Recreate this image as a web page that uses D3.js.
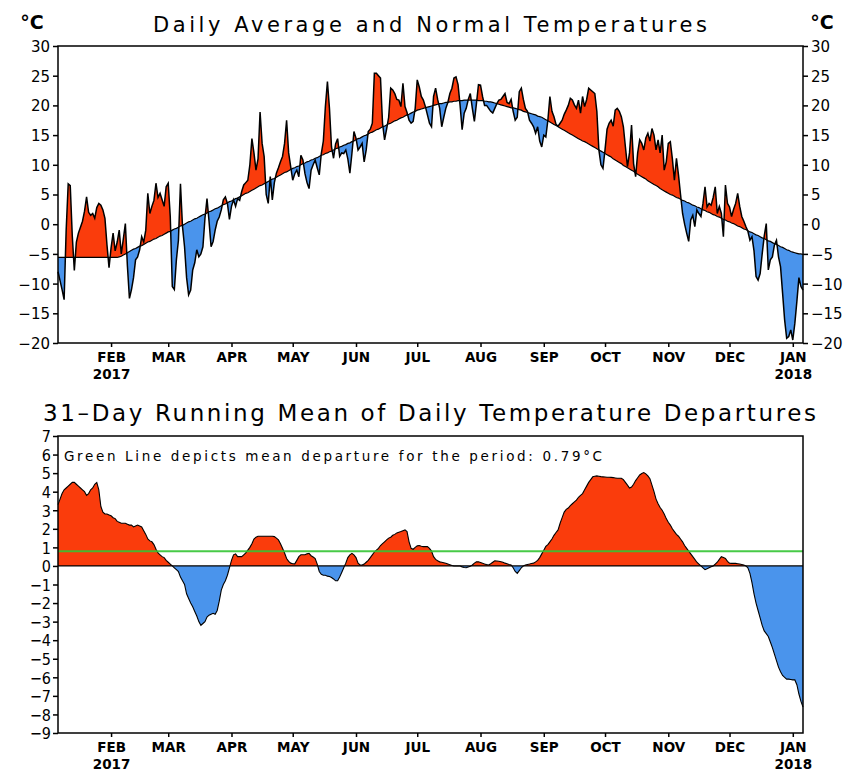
<!DOCTYPE html>
<html>
<head>
<meta charset="utf-8">
<script src="https://cdn.jsdelivr.net/npm/d3@7.9.0/dist/d3.min.js"></script>
<style>
  body { margin: 0; background: #fff; }
  text { font-family: "DejaVu Sans", sans-serif; fill: #000; }
</style>
</head>
<body>
<div id="chart"></div>
<script>
// daily values, 2017-01-06 .. 2018-01-06 (366 days)
const firstDay = new Date(2017, 0, 6);

const avgTemp = [
  -8.0, -9.5, -11.0, -12.7, -1.0, 6.8, 6.5, -2.0, -7.8, -3.0,
  -1.5, -0.5, 0.5, 2.2, 4.6, 2.0, 1.5, 1.8, 1.0, 2.8,
  3.5, 3.2, 2.4, 1.0, -3.5, -7.3, -4.0, -1.5, -4.5, -3.0,
  -1.0, -5.0, -2.5, 0.1, -7.0, -12.5, -11.0, -9.0, -6.0, -5.5,
  -4.3, -2.1, -3.0, -1.0, 5.2, 1.8, 3.0, 4.0, 6.9, 4.5,
  5.2, 4.1, 3.0, 6.3, 6.9, 1.3, -10.5, -11.0, -6.0, -2.7,
  6.8, -0.4, -3.8, -9.0, -11.9, -11.1, -7.7, -6.5, -4.3, -5.5,
  -5.0, -3.8, 1.0, 4.3, 0.5, -3.8, -2.9, -1.0, 0.5, 1.2,
  2.4, 4.1, 4.6, 3.5, 0.8, 3.0, 4.1, 3.0, 4.3, 4.0,
  5.5, 6.6, 7.0, 7.4, 10.0, 14.4, 12.0, 9.1, 11.0, 18.9,
  13.6, 11.4, 5.0, 3.5, 8.0, 4.1, 7.0, 8.6, 9.5, 10.5,
  11.4, 13.6, 17.5, 12.0, 9.7, 7.4, 8.5, 9.1, 8.0, 11.6,
  10.8, 8.5, 7.0, 6.0, 9.1, 10.0, 10.8, 9.5, 8.3, 11.9,
  14.0, 19.8, 24.0, 19.5, 13.0, 11.1, 13.5, 14.4, 11.4, 12.0,
  11.9, 12.5, 11.0, 8.6, 11.9, 15.6, 14.5, 12.5, 13.0, 13.6,
  10.5, 12.5, 15.6, 16.0, 17.0, 25.4, 25.4, 25.0, 24.6, 17.0,
  14.2, 16.0, 18.0, 22.9, 22.6, 22.0, 21.0, 20.9, 19.8, 23.7,
  19.8, 18.8, 17.5, 17.0, 17.3, 19.5, 24.3, 23.1, 21.5, 20.9,
  19.8, 18.4, 17.0, 16.4, 21.5, 22.9, 21.0, 19.5, 16.4, 18.0,
  19.5, 20.5, 22.0, 22.9, 24.6, 24.8, 23.5, 20.0, 15.9, 18.7,
  19.5, 21.0, 22.0, 19.5, 17.3, 20.3, 23.5, 23.4, 21.5, 20.0,
  20.0, 19.5, 19.0, 18.7, 19.5, 20.3, 20.9, 21.0, 21.5, 22.0,
  20.5, 20.3, 21.0, 19.0, 17.5, 18.0, 22.3, 22.9, 21.0, 19.5,
  19.0, 17.5, 17.0, 16.4, 15.3, 16.4, 14.0, 13.0, 15.0, 14.7,
  17.5, 21.5, 19.0, 18.1, 16.8, 16.5, 17.0, 17.5, 18.5, 19.2,
  20.0, 21.2, 20.9, 20.1, 19.5, 20.9, 18.7, 21.5, 19.8, 21.0,
  22.9, 22.6, 22.3, 22.0, 19.0, 12.5, 10.0, 9.4, 12.5, 16.0,
  17.0, 17.5, 16.5, 19.2, 19.5, 19.0, 18.1, 16.4, 13.0, 9.7,
  12.0, 16.7, 10.2, 8.0, 12.0, 14.2, 13.6, 12.5, 14.5, 15.3,
  14.0, 16.1, 15.0, 12.5, 14.2, 12.0, 15.0, 9.1, 10.5, 13.6,
  13.9, 11.0, 7.4, 11.1, 8.3, 5.0, 1.8, 0.0, -1.5, -2.9,
  0.7, 1.5, -0.4, 2.4, 1.8, 1.3, 3.5, 6.3, 2.9, 3.5,
  3.2, 4.5, 6.3, 1.8, 3.0, 1.8, -2.1, 6.6, 3.5, 2.9,
  1.3, 2.5, 3.5, 5.2, 3.0, 1.3, 0.5, -0.4, -1.2, -2.7,
  -2.1, -4.5, -8.8, -9.4, -8.3, -5.0, -2.0, 0.1, -7.7, -6.0,
  -5.5, -3.5, -2.7, -5.5, -7.2, -11.6, -16.1, -19.2, -18.9, -17.8,
  -19.5, -16.7, -13.0, -9.0, -10.5, -11.1
];

const normalTemp = [
  -5.6, -5.6, -5.6, -5.6, -5.6, -5.6, -5.6, -5.6, -5.6, -5.6,
  -5.6, -5.6, -5.6, -5.6, -5.6, -5.6, -5.6, -5.6, -5.6, -5.6,
  -5.6, -5.6, -5.6, -5.6, -5.6, -5.6, -5.6, -5.6, -5.6, -5.6,
  -5.5, -5.4, -5.2, -5.0, -4.8, -4.6, -4.4, -4.2, -4.1, -3.9,
  -3.7, -3.6, -3.4, -3.2, -3.0, -2.9, -2.7, -2.5, -2.4, -2.2,
  -2.0, -1.9, -1.7, -1.5, -1.3, -1.2, -1.0, -0.8, -0.7, -0.5,
  -0.3, -0.2, 0.0, 0.2, 0.4, 0.5, 0.7, 0.9, 1.0, 1.2,
  1.4, 1.6, 1.7, 1.9, 2.1, 2.2, 2.4, 2.6, 2.7, 2.9,
  3.1, 3.3, 3.4, 3.6, 3.8, 3.9, 4.1, 4.3, 4.4, 4.6,
  4.8, 5.0, 5.2, 5.3, 5.5, 5.7, 5.9, 6.1, 6.3, 6.5,
  6.6, 6.8, 7.0, 7.2, 7.4, 7.6, 7.7, 7.9, 8.1, 8.3,
  8.5, 8.7, 8.8, 9.0, 9.2, 9.4, 9.5, 9.7, 9.8, 10.0,
  10.2, 10.3, 10.5, 10.6, 10.8, 10.9, 11.1, 11.2, 11.4, 11.6,
  11.7, 11.9, 12.0, 12.2, 12.3, 12.5, 12.7, 12.8, 13.0, 13.1,
  13.3, 13.4, 13.6, 13.7, 13.9, 14.0, 14.2, 14.4, 14.5, 14.7,
  14.9, 15.0, 15.2, 15.4, 15.5, 15.7, 15.9, 16.0, 16.2, 16.4,
  16.5, 16.7, 16.9, 17.0, 17.2, 17.4, 17.5, 17.7, 17.9, 18.0,
  18.2, 18.4, 18.5, 18.7, 18.9, 19.0, 19.2, 19.3, 19.4, 19.5,
  19.6, 19.7, 19.8, 19.9, 20.0, 20.1, 20.2, 20.3, 20.3, 20.4,
  20.5, 20.5, 20.6, 20.6, 20.7, 20.7, 20.8, 20.8, 20.8, 20.9,
  20.9, 20.9, 20.9, 20.9, 20.9, 20.9, 20.8, 20.8, 20.8, 20.7,
  20.7, 20.6, 20.6, 20.5, 20.4, 20.3, 20.2, 20.1, 20.0, 19.9,
  19.8, 19.7, 19.6, 19.6, 19.5, 19.4, 19.3, 19.2, 19.0, 18.9,
  18.8, 18.7, 18.6, 18.5, 18.4, 18.2, 18.1, 18.0, 17.8, 17.6,
  17.4, 17.2, 17.0, 16.8, 16.6, 16.4, 16.2, 16.0, 15.8, 15.6,
  15.4, 15.2, 15.0, 14.8, 14.6, 14.4, 14.2, 14.0, 13.9, 13.7,
  13.5, 13.3, 13.1, 12.9, 12.7, 12.5, 12.3, 12.1, 11.9, 11.7,
  11.5, 11.3, 11.0, 10.8, 10.6, 10.4, 10.2, 9.9, 9.7, 9.5,
  9.3, 9.1, 8.9, 8.6, 8.4, 8.2, 8.0, 7.8, 7.6, 7.3,
  7.1, 6.9, 6.7, 6.5, 6.3, 6.0, 5.8, 5.6, 5.4, 5.2,
  5.0, 4.9, 4.7, 4.5, 4.4, 4.2, 4.0, 3.9, 3.7, 3.6,
  3.4, 3.2, 3.1, 2.9, 2.8, 2.6, 2.4, 2.3, 2.1, 2.0,
  1.8, 1.6, 1.5, 1.3, 1.2, 1.0, 0.8, 0.7, 0.5, 0.4,
  0.2, 0.1, -0.1, -0.3, -0.4, -0.6, -0.8, -0.9, -1.1, -1.3,
  -1.4, -1.6, -1.8, -1.9, -2.1, -2.3, -2.4, -2.6, -2.8, -2.9,
  -3.1, -3.3, -3.4, -3.6, -3.8, -3.9, -4.1, -4.3, -4.4, -4.6,
  -4.7, -4.8, -4.9, -5.0, -5.0, -5.1
];

// 31-day running mean of the daily departures
const runningMean = [
  3.3, 3.6, 3.9, 4.1, 4.2, 4.3, 4.4, 4.5, 4.5, 4.4,
  4.3, 4.2, 4.1, 4.0, 3.8, 3.9, 4.1, 4.2, 4.4, 4.5,
  4.1, 3.2, 2.9, 2.8, 2.8, 2.75, 2.7, 2.6, 2.55, 2.4,
  2.35, 2.3, 2.3, 2.3, 2.25, 2.2, 2.2, 2.1, 2.15, 2.2,
  2.15, 2.1, 1.9, 1.7, 1.45, 1.35, 1.3, 1.15, 0.9, 0.7,
  0.6, 0.5, 0.45, 0.3, 0.2, 0.1, 0.0, -0.1, -0.2, -0.3,
  -0.6, -0.8, -1.0, -1.5, -1.75, -2.0, -2.2, -2.45, -2.7, -3.0,
  -3.2, -3.1, -3.0, -2.75, -2.65, -2.6, -2.55, -2.6, -2.4, -1.9,
  -1.3, -1.0, -0.8, -0.5, -0.1, 0.3, 0.6, 0.65, 0.5, 0.5,
  0.5, 0.6, 0.7, 0.85, 1.0, 1.2, 1.45, 1.55, 1.6, 1.6,
  1.6, 1.6, 1.6, 1.6, 1.6, 1.6, 1.58, 1.5, 1.4, 1.2,
  0.95, 0.7, 0.4, 0.25, 0.15, 0.12, 0.11, 0.3, 0.5, 0.6,
  0.6, 0.6, 0.65, 0.68, 0.55, 0.48, 0.4, 0.1, -0.3, -0.45,
  -0.5, -0.5, -0.55, -0.57, -0.62, -0.7, -0.8, -0.8, -0.6, -0.35,
  -0.1, 0.15, 0.45, 0.6, 0.68, 0.6, 0.45, 0.15, 0.05, 0.05,
  0.1, 0.2, 0.3, 0.45, 0.6, 0.75, 0.85, 0.95, 1.1, 1.2,
  1.3, 1.4, 1.5, 1.55, 1.65, 1.7, 1.78, 1.82, 1.85, 1.9,
  1.94, 1.85, 1.3, 0.95, 0.9, 1.0, 1.08, 1.1, 1.06, 1.04,
  1.04, 1.04, 0.95, 0.8, 0.5, 0.35, 0.28, 0.22, 0.2, 0.17,
  0.14, 0.1, 0.06, 0.02, 0.0, 0.0, 0.0, 0.0, -0.05, -0.08,
  -0.1, -0.06, -0.02, 0.05, 0.15, 0.22, 0.22, 0.18, 0.14, 0.1,
  0.07, 0.05, 0.12, 0.2, 0.28, 0.27, 0.25, 0.23, 0.2, 0.15,
  0.12, 0.08, 0.05, -0.1, -0.3, -0.4, -0.25, -0.1, 0.0, 0.05,
  0.08, 0.1, 0.13, 0.15, 0.22, 0.3, 0.45, 0.65, 0.85, 1.05,
  1.15, 1.3, 1.45, 1.65, 1.8, 1.94, 2.3, 2.6, 2.9, 3.05,
  3.12, 3.25, 3.35, 3.45, 3.55, 3.7, 3.8, 3.9, 4.1, 4.3,
  4.5, 4.65, 4.8, 4.83, 4.85, 4.83, 4.81, 4.8, 4.79, 4.78,
  4.78, 4.77, 4.76, 4.74, 4.72, 4.72, 4.72, 4.65, 4.5, 4.35,
  4.2, 4.25, 4.4, 4.6, 4.75, 4.9, 4.98, 5.03, 4.96, 4.85,
  4.7, 4.35, 4.0, 3.6, 3.35, 3.15, 3.0, 2.8, 2.55, 2.35,
  2.2, 2.0, 1.85, 1.7, 1.6, 1.45, 1.3, 1.1, 0.95, 0.8,
  0.65, 0.5, 0.35, 0.2, 0.1, 0.0, -0.1, -0.2, -0.15, -0.1,
  -0.05, 0.0, 0.1, 0.2, 0.35, 0.5, 0.45, 0.4, 0.25, 0.15,
  0.14, 0.14, 0.14, 0.12, 0.1, 0.08, 0.05, 0.0, -0.1, -0.4,
  -0.9, -1.5, -2.0, -2.4, -2.8, -3.2, -3.5, -3.65, -3.8, -4.1,
  -4.4, -4.75, -5.1, -5.45, -5.7, -5.9, -6.0, -6.1, -6.1, -6.12,
  -6.14, -6.14, -6.4, -6.9, -7.3, -7.6
];

const meanDeparture = 0.79;
const monthLabels = ["FEB", "MAR", "APR", "MAY", "JUN", "JUL", "AUG", "SEP", "OCT", "NOV", "DEC", "JAN"];
const yearLabels = {FEB: "2017", JAN: "2018"};
const tempTicks = [-20, -15, -10, -5, 0, 5, 10, 15, 20, 25, 30];
const departureTicks = [-9, -8, -7, -6, -5, -4, -3, -2, -1, 0, 1, 2, 3, 4, 5, 6, 7];

const width = 854, height = 776;
const plotLeft = 58, plotRight = 803;
const topPanel = {top: 46, bottom: 343};
const lowPanel = {top: 436, bottom: 733};
const red = "#fa3c0c", blue = "#4a94ec";

const rows = avgTemp.map((t, i) => ({
  date: d3.timeDay.offset(firstDay, i),
  temp: t,
  normal: normalTemp[i],
  mean: runningMean[i]
}));

const svg = d3.select("#chart")
  .append("svg")
  .attr("width", width)
  .attr("height", height);

const defs = svg.append("defs");

var x = d3.scaleTime()
  .domain([firstDay, d3.timeDay.offset(firstDay, 365)])
  .range([plotLeft, plotRight]);

const months = d3.timeMonth.range(new Date(2017, 1, 1), new Date(2018, 0, 2));

// month axis + year lines under FEB / JAN
function monthAxis(yPos, labelGap) {
  const g = svg.append("g")
    .attr("transform", "translate(0," + yPos + ")")
    .call(d3.axisBottom(x).tickValues(months).tickSize(4).tickPadding(labelGap)
      .tickFormat((d, i) => monthLabels[i]));
  g.select(".domain").remove();
  g.selectAll("line").attr("stroke", "#000").attr("stroke-width", 1.5);
  g.selectAll("text").attr("font-size", 13.5).attr("font-weight", "bold");
  g.selectAll(".tick").filter((d, i) => yearLabels[monthLabels[i]])
    .append("text")
    .attr("y", labelGap + 31)
    .attr("fill", "#000")
    .attr("font-size", 13.5)
    .attr("font-weight", "bold")
    .text(d => yearLabels[monthLabels[months.indexOf(d)]]);
}

// ---------- top panel: daily average vs normal ----------
var yTop = d3.scaleLinear()
  .domain([-20, 30])
  .range([topPanel.bottom, topPanel.top]);

defs.append("clipPath").attr("id", "above-normal")
  .append("path")
  .attr("d", d3.area().x(d => x(d.date)).y0(topPanel.top).y1(d => yTop(d.normal))(rows));
defs.append("clipPath").attr("id", "below-normal")
  .append("path")
  .attr("d", d3.area().x(d => x(d.date)).y0(topPanel.bottom).y1(d => yTop(d.normal))(rows));

const departArea = d3.area()
  .x(d => x(d.date))
  .y0(d => yTop(d.normal))
  .y1(d => yTop(d.temp));

svg.append("path").datum(rows)
  .attr("clip-path", "url(#above-normal)")
  .attr("fill", red)
  .attr("d", departArea);
svg.append("path").datum(rows)
  .attr("clip-path", "url(#below-normal)")
  .attr("fill", blue)
  .attr("d", departArea);

svg.append("path").datum(rows)
  .attr("fill", "none").attr("stroke", "#000").attr("stroke-width", 1.2)
  .attr("d", d3.line().x(d => x(d.date)).y(d => yTop(d.normal)));
svg.append("path").datum(rows)
  .attr("fill", "none").attr("stroke", "#000").attr("stroke-width", 1.5)
  .attr("d", d3.line().x(d => x(d.date)).y(d => yTop(d.temp)));

svg.append("rect")
  .attr("x", plotLeft).attr("y", topPanel.top)
  .attr("width", plotRight - plotLeft).attr("height", topPanel.bottom - topPanel.top)
  .attr("fill", "none").attr("stroke", "#000").attr("stroke-width", 1.5);

const leftTop = svg.append("g")
  .attr("transform", "translate(" + plotLeft + ",0)")
  .call(d3.axisLeft(yTop).tickValues(tempTicks).tickSize(5).tickPadding(3));
const rightTop = svg.append("g")
  .attr("transform", "translate(" + plotRight + ",0)")
  .call(d3.axisRight(yTop).tickValues(tempTicks).tickSize(5).tickPadding(3));
[leftTop, rightTop].forEach(g => {
  g.select(".domain").remove();
  g.selectAll("line").attr("stroke", "#000").attr("stroke-width", 1.5);
  g.selectAll("text").attr("font-size", 15).attr("dy", "0.36em");
});

monthAxis(topPanel.bottom, 5);

svg.append("text").attr("x", 32).attr("y", 29)
  .attr("text-anchor", "middle").attr("font-size", 19).attr("font-weight", "bold").text("°C");
svg.append("text").attr("x", 822).attr("y", 29)
  .attr("text-anchor", "middle").attr("font-size", 19).attr("font-weight", "bold").text("°C");

svg.append("text")
  .attr("x", 153).attr("y", 32)
  .attr("font-size", 21)
  .attr("textLength", 554).attr("lengthAdjust", "spacing")
  .text("Daily Average and Normal Temperatures");

// ---------- bottom panel: running mean of departures ----------
var yLow = d3.scaleLinear()
  .domain([-9, 7])
  .range([lowPanel.bottom, lowPanel.top]);

defs.append("clipPath").attr("id", "above-zero")
  .append("rect")
  .attr("x", plotLeft).attr("y", lowPanel.top)
  .attr("width", plotRight - plotLeft).attr("height", yLow(0) - lowPanel.top);
defs.append("clipPath").attr("id", "below-zero")
  .append("rect")
  .attr("x", plotLeft).attr("y", yLow(0))
  .attr("width", plotRight - plotLeft).attr("height", lowPanel.bottom - yLow(0));

const meanArea = d3.area()
  .x(d => x(d.date))
  .y0(yLow(0))
  .y1(d => yLow(d.mean));

svg.append("path").datum(rows)
  .attr("clip-path", "url(#above-zero)")
  .attr("fill", red)
  .attr("d", meanArea);
svg.append("path").datum(rows)
  .attr("clip-path", "url(#below-zero)")
  .attr("fill", blue)
  .attr("d", meanArea);
svg.append("path").datum(rows)
  .attr("fill", "none").attr("stroke", "#000").attr("stroke-width", 1.1)
  .attr("d", d3.line().x(d => x(d.date)).y(d => yLow(d.mean)));

svg.append("line")
  .attr("x1", plotLeft).attr("x2", plotRight)
  .attr("y1", yLow(0)).attr("y2", yLow(0))
  .attr("stroke", "#000").attr("stroke-width", 1.2);
svg.append("line")
  .attr("x1", plotLeft).attr("x2", plotRight)
  .attr("y1", yLow(meanDeparture)).attr("y2", yLow(meanDeparture))
  .attr("stroke", "#33c433").attr("stroke-opacity", 0.9).attr("stroke-width", 1.8);

svg.append("rect")
  .attr("x", plotLeft).attr("y", lowPanel.top)
  .attr("width", plotRight - plotLeft).attr("height", lowPanel.bottom - lowPanel.top)
  .attr("fill", "none").attr("stroke", "#000").attr("stroke-width", 1.5);

const leftLow = svg.append("g")
  .attr("transform", "translate(" + plotLeft + ",0)")
  .call(d3.axisLeft(yLow).tickValues(departureTicks).tickSize(5).tickPadding(2));
leftLow.select(".domain").remove();
leftLow.selectAll("line").attr("stroke", "#000").attr("stroke-width", 1.5);
leftLow.selectAll("text").attr("font-size", 16).attr("dy", "0.36em")
  .style("font-family", "'DejaVu Sans Condensed', 'DejaVu Sans', sans-serif");

monthAxis(lowPanel.bottom, 5);

svg.append("text")
  .attr("x", 43).attr("y", 421)
  .attr("font-size", 23)
  .attr("textLength", 773).attr("lengthAdjust", "spacing")
  .text("31–Day Running Mean of Daily Temperature Departures");

svg.append("text")
  .attr("x", 64).attr("y", 461)
  .attr("font-size", 13.5)
  .attr("textLength", 538).attr("lengthAdjust", "spacing")
  .text("Green Line depicts mean departure for the period: " + meanDeparture.toFixed(2) + "°C");
</script>
</body>
</html>
